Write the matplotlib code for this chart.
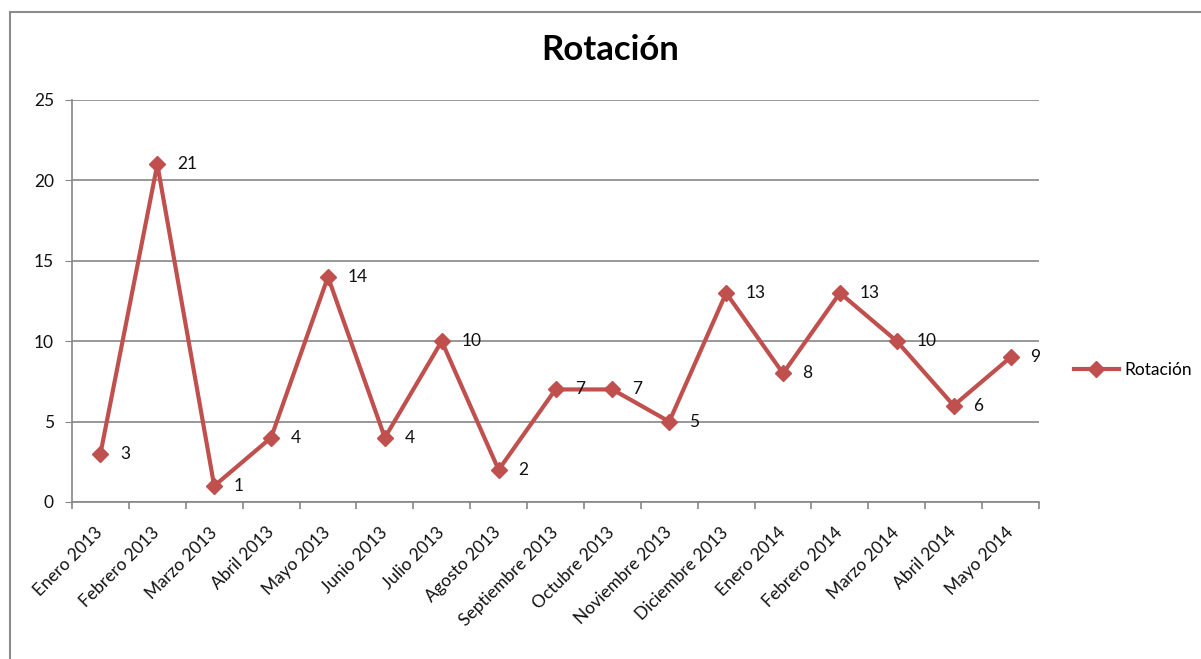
import matplotlib
matplotlib.use("Agg")
import matplotlib.pyplot as plt
from matplotlib.patches import Rectangle
import numpy as np

categories = ["Enero 2013", "Febrero 2013", "Marzo 2013", "Abril 2013", "Mayo 2013",
              "Junio 2013", "Julio 2013", "Agosto 2013", "Septiembre 2013", "Octubre 2013",
              "Noviembre 2013", "Diciembre 2013", "Enero 2014", "Febrero 2014", "Marzo 2014",
              "Abril 2014", "Mayo 2014"]
values = [3, 21, 1, 4, 14, 4, 10, 2, 7, 7, 5, 13, 8, 13, 10, 6, 9]
series_name = "Rotación"
title = "Rotación"
yticks = [0, 5, 10, 15, 20, 25]

plt.rcParams['font.family'] = ['Lato', 'DejaVu Sans']

fig = plt.figure(figsize=(12.01, 6.59), dpi=100)
fig.patch.set_facecolor('white')

# outer chart frame (only left and top visible in the reference)
fig.add_artist(Rectangle((10 / 1201, -0.1), 1.2, 1 - 12 / 659 + 0.1,
                         transform=fig.transFigure, fill=False,
                         edgecolor='#8c8c8c', linewidth=1.5))

ax = fig.add_axes([72 / 1201, 1 - 502 / 659, (1039 - 72) / 1201, (502 - 100) / 659])
x = np.arange(len(categories))
color = '#C0504D'
ax.plot(x, values, color=color, linewidth=3.0, marker='D', markersize=8,
        label=series_name, zorder=3)

for xi, v in zip(x, values):
    ax.annotate(str(v), (xi, v), xytext=(14, 0), textcoords='offset points',
                ha='left', va='center', fontsize=12.5, color='#111111')

ax.set_xlim(-0.5, len(categories) - 0.5)
ax.set_ylim(0, 25)
ax.set_yticks(yticks)
ax.grid(axis='y', color='#868686', linewidth=1.2)
ax.set_axisbelow(True)
for s in ['top', 'right']:
    ax.spines[s].set_visible(False)
for s in ['left', 'bottom']:
    ax.spines[s].set_color('#868686')
    ax.spines[s].set_linewidth(1.2)

ax.tick_params(axis='y', length=5, color='#868686', labelsize=12.5, pad=8, labelcolor='#111111')
ax.set_xticks(x)
ax.set_xticklabels(categories, rotation=45, ha='right', va='center',
                   rotation_mode='anchor', fontsize=12.5, color='#111111')
ax.tick_params(axis='x', which='major', length=0, pad=20)
ax.set_xticks(np.arange(-0.5, len(categories), 1.0), minor=True)
ax.tick_params(axis='x', which='minor', length=5, color='#868686', width=1.2)

fig.text(610 / 1201, 1 - 50 / 659, title, ha='center', va='center',
         fontsize=25, fontweight='bold', color='#000000')

leg = fig.legend(loc='center left', bbox_to_anchor=(1058 / 1201, 1 - 370 / 659),
                 frameon=False, fontsize=12.5, handlelength=2.6, handletextpad=0.3)

fig.savefig('out.png', dpi=100, facecolor='white')
